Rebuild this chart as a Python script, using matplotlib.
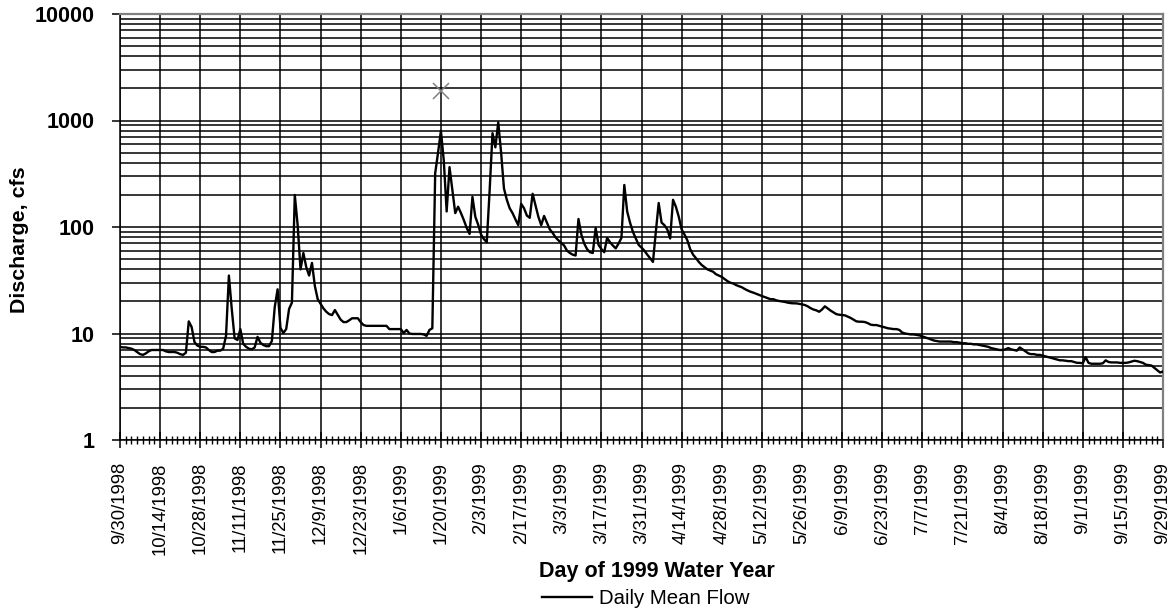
import matplotlib
matplotlib.use('Agg')
import matplotlib.pyplot as plt
from matplotlib.ticker import MultipleLocator, NullFormatter, FixedLocator
from matplotlib.lines import Line2D
import numpy as np

plt.rcParams['font.family'] = ['Liberation Sans', 'DejaVu Sans']

# ---- data -------------------------------------------------------------
tick_labels = ['9/30/1998', '10/14/1998', '10/28/1998', '11/11/1998', '11/25/1998',
               '12/9/1998', '12/23/1998', '1/6/1999', '1/20/1999', '2/3/1999',
               '2/17/1999', '3/3/1999', '3/17/1999', '3/31/1999', '4/14/1999',
               '4/28/1999', '5/12/1999', '5/26/1999', '6/9/1999', '6/23/1999',
               '7/7/1999', '7/21/1999', '8/4/1999', '8/18/1999', '9/1/1999',
               '9/15/1999', '9/29/1999']

# daily mean flow (cfs), 9/30/1998 .. 9/29/1999
flow = [
    7.5, 7.4, 7.4, 7.3, 7.2, 7.0, 6.7, 6.4, 6.3, 6.5,
    6.8, 7.0, 7.0, 7.0, 7.0, 7.0, 6.8, 6.7, 6.7, 6.7,
    6.6, 6.4, 6.3, 6.6, 13.0, 11.5, 8.3, 7.7, 7.5, 7.5,
    7.4, 7.0, 6.7, 6.7, 6.9, 6.9, 7.2, 9.5, 35.0, 17.0,
    9.0, 8.7, 11.0, 8.0, 7.5, 7.2, 7.1, 7.4, 9.3, 8.2,
    7.8, 7.6, 7.6, 8.5, 17.7, 26.0, 11.3, 10.1, 11.0, 17.0,
    19.5, 200, 104, 40, 57, 42, 35, 46, 28, 21,
    19, 17.2, 16, 15.2, 14.9, 16.6, 15, 13.5, 12.8, 12.8,
    13.3, 13.9, 13.9, 13.9, 12.8, 12.0, 11.8, 11.8, 11.8, 11.8,
    11.8, 11.8, 11.8, 11.8, 11.0, 11.0, 11.0, 11.0, 11.0, 10.1,
    10.8, 10.0, 9.9, 9.9, 9.9, 9.9, 9.8, 9.5, 10.8, 11.2,
    320, 500, 800, 420, 140, 365, 220, 135, 155, 135,
    116, 98, 86, 192, 125, 105, 85, 77, 72, 220,
    760, 560, 960, 500, 230, 180, 150, 135, 118, 104,
    165, 150, 128, 122, 205, 160, 125, 104, 127, 110,
    95, 88, 80, 75, 71, 67, 60, 57, 55, 54,
    119, 85, 70, 62, 58, 57, 98, 68, 62, 58,
    79, 72, 67, 63, 70, 79, 248, 140, 110, 90,
    78, 68, 64, 60, 55, 51, 47, 90, 168, 110,
    104, 95, 78, 180, 155, 125, 95, 85, 75, 62,
    55, 51, 47, 44, 42, 40, 39, 38, 36, 35,
    34, 32.5, 31, 30, 29.5, 28.5, 27.8, 27.2, 26.2, 25.4,
    24.7, 24.2, 23.6, 23, 22.5, 22, 21.5, 21, 21, 20.5,
    20.2, 20, 19.8, 19.5, 19.3, 19.2, 19.2, 19, 18.8, 18.5,
    18, 17.3, 16.8, 16.5, 16, 16.8, 18, 17.2, 16.4, 15.8,
    15.2, 15, 14.9, 14.8, 14.4, 14, 13.5, 13, 12.9, 12.9,
    12.8, 12.5, 12.1, 12, 12, 11.8, 11.6, 11.4, 11.2, 11.1,
    11, 11, 10.8, 10.2, 10, 9.9, 9.8, 9.8, 9.7, 9.6,
    9.4, 9.2, 9.0, 8.8, 8.6, 8.5, 8.4, 8.4, 8.4, 8.4,
    8.4, 8.3, 8.3, 8.2, 8.1, 8.1, 8.0, 8.0, 7.9, 7.9,
    7.8, 7.7, 7.6, 7.5, 7.3, 7.2, 7.1, 7.0, 7.0, 7.1,
    7.3, 7.1, 7.0, 6.9, 7.4, 7.1, 6.8, 6.5, 6.4, 6.4,
    6.3, 6.3, 6.2, 6.1, 6.0, 5.9, 5.8, 5.7, 5.6, 5.6,
    5.55, 5.5, 5.5, 5.4, 5.3, 5.3, 5.25, 6.0, 5.3, 5.2,
    5.2, 5.2, 5.2, 5.25, 5.6, 5.4, 5.35, 5.35, 5.35, 5.3,
    5.3, 5.3, 5.35, 5.45, 5.55, 5.5, 5.4, 5.3, 5.1, 5.05,
    5.0, 4.75, 4.5, 4.3, 4.4,
]

peak_day = 112          # 1/20/1999
peak_flow = 1900        # instantaneous peak marker

y_ticks = [1, 10, 100, 1000, 10000]
y_tick_labels = ['1', '10', '100', '1000', '10000']

# ---- figure -----------------------------------------------------------
W, H = 1176, 611
fig = plt.figure(figsize=(W / 100, H / 100), dpi=100)
ax = fig.add_axes([120 / W, 1 - 440 / H, (1163 - 120) / W, (440 - 14) / H])

days = np.arange(len(flow))

ax.set_yscale('log')
ax.set_ylim(1, 10000)
ax.set_xlim(0, len(flow) - 1)

# y grid: decades and 2..9 subdivisions
ax.yaxis.set_major_locator(FixedLocator(y_ticks))
ax.set_yticklabels(y_tick_labels)
minor_y = [m * 10 ** e for e in range(0, 4) for m in range(2, 10)]
ax.yaxis.set_minor_locator(FixedLocator(minor_y))
ax.yaxis.set_minor_formatter(NullFormatter())

# x ticks every 14 days, minor every 2 days
ax.xaxis.set_major_locator(FixedLocator(np.arange(0, len(flow), 14)))
ax.set_xticklabels(tick_labels, rotation=90)
ax.xaxis.set_minor_locator(MultipleLocator(2))

ax.grid(which='major', axis='both', color='black', lw=1.1, zorder=1)
ax.grid(which='minor', axis='y', color='black', lw=1.1, zorder=1)
ax.set_axisbelow(True)

ax.tick_params(axis='y', which='major', direction='out', length=6, width=1.1,
               pad=12, labelsize=15.5)
for lab in ax.get_yticklabels():
    lab.set_fontweight('bold')
ax.tick_params(axis='y', which='minor', length=0)
ax.tick_params(axis='x', which='major', direction='inout', length=12, width=1.1,
               pad=10, labelsize=13.3)
ax.tick_params(axis='x', which='minor', direction='inout', length=6, width=1.0)

for side in ('left', 'bottom'):
    ax.spines[side].set_color('black')
    ax.spines[side].set_linewidth(1.1)
for side in ('top', 'right'):
    ax.spines[side].set_color('#808080')
    ax.spines[side].set_linewidth(1.6)

ax.plot(days, flow, color='black', lw=1.7, zorder=3)
ax.plot([peak_day], [peak_flow], marker='x', color='#808080', ms=11, mew=1.1,
        linestyle='none', zorder=4)

ax.set_xlabel('Day of 1999 Water Year', fontsize=15.5, fontweight='bold', labelpad=6)
ax.xaxis.set_label_coords((657 - 120) / (1163 - 120), -0.308)
ax.xaxis.label.set_va('center')
fig.text(19.5 / W, 1 - 240 / H, 'Discharge, cfs', rotation=90, ha='center',
         va='center', fontsize=15.4, fontweight='bold')

handle = Line2D([], [], color='black', lw=1.7)
fig.legend([handle], ['Daily Mean Flow'], loc='center',
           bbox_to_anchor=(646 / W, 1 - 599 / H), frameon=False, fontsize=14.7,
           handlelength=2.45, handletextpad=0.34, borderpad=0)

fig.savefig('out.png', dpi=100)
